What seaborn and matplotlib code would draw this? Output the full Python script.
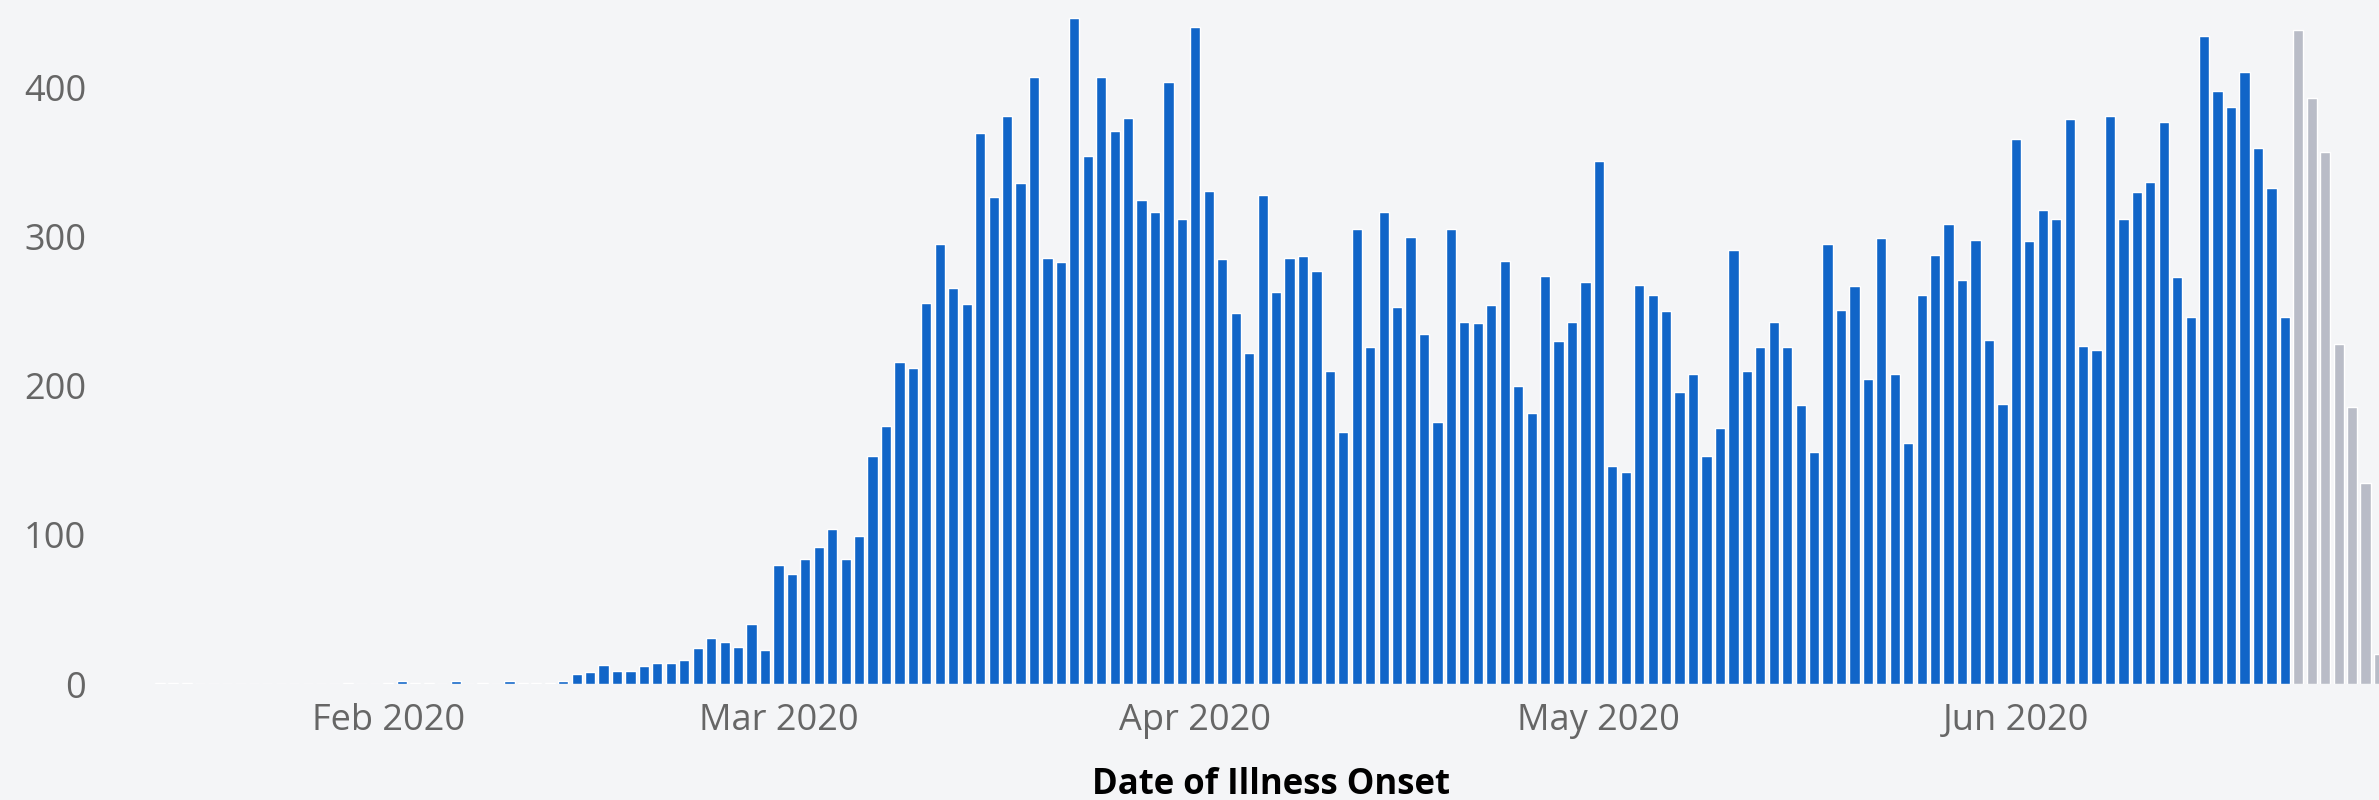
import matplotlib
matplotlib.use("Agg")
import matplotlib.pyplot as plt
import matplotlib.dates as mdates
import pandas as pd
import seaborn as sns


# daily case counts by date of illness onset
start_date = "2020-01-15"
case_counts = [
    # Jan 15 - Jan 31
    1, 1, 1, 0, 0, 0, 0, 0, 0, 0, 0, 0, 0, 0, 1, 0, 0,
    # Feb 1 - Feb 29
    1, 2, 1, 1, 0, 2, 0, 1, 0, 2, 1, 1, 1, 2, 7, 8, 13, 9, 9, 12,
    14, 14, 16, 24, 31, 28, 25, 40, 23,
    # Mar 1 - Mar 31
    80, 74, 84, 92, 104, 84, 99, 153, 173, 216, 212, 256, 295, 266, 255, 370,
    327, 381, 336, 407, 286, 283, 447, 354, 407, 371, 380, 325, 317, 404, 312,
    # Apr 1 - Apr 30
    441, 331, 285, 249, 222, 328, 263, 286, 287, 277, 210, 169, 305, 226, 317,
    253, 300, 235, 176, 305, 243, 242, 254, 284, 200, 182, 274, 230, 243, 270,
    # May 1 - May 31
    351, 146, 142, 268, 261, 250, 196, 208, 153, 172, 291, 210, 226, 243, 226,
    187, 156, 295, 251, 267, 205, 299, 208, 162, 261, 288, 309, 271, 298, 231, 188,
    # Jun 1 - Jun 28
    366, 297, 318, 312, 379, 227, 224, 381, 312, 330, 337, 377, 273, 246, 435,
    398, 387, 411, 360, 333, 246,
    439, 393, 357, 228, 186, 135, 20,
]
# last week is still incomplete (drawn in gray)
n_pending = 7

y_ticks = [0, 100, 200, 300, 400]
x_label = "Date of Illness Onset"

blue = "#1165c8"
gray = "#b9bcc7"
bg = "#f4f5f7"

dates = pd.date_range(start_date, periods=len(case_counts), freq="D")
status = ["Confirmed"] * (len(case_counts) - n_pending) + ["Pending"] * n_pending
df = pd.DataFrame({
    "day": mdates.date2num(dates),
    "cases": case_counts,
    "status": status,
})

sns.set_theme(style="white")
plt.rcParams["font.family"] = ["Open Sans", "DejaVu Sans"]

fig = plt.figure(figsize=(23.79, 8), dpi=100)
fig.patch.set_facecolor(bg)
ax = fig.add_axes([100 / 2379, 116 / 800, 2279 / 2379, 684 / 800])
ax.set_facecolor(bg)

sns.barplot(data=df, x="day", y="cases", hue="status",
            palette={"Confirmed": blue, "Pending": gray},
            native_scale=True, dodge=False, width=0.76,
            errorbar=None, legend=False, saturation=1, ax=ax)

# Feb 29 sits at 765 px; one day is about 13.45 px wide
ref = mdates.date2num(pd.Timestamp("2020-02-29"))
ax.set_xlim(ref - 49.44, ref + 120.0)
ax.set_ylim(0, 459)

ax.xaxis.set_major_locator(mdates.MonthLocator())
ax.xaxis.set_major_formatter(mdates.DateFormatter("%b %Y"))
ax.set_yticks(y_ticks)
ax.tick_params(axis="x", length=0, pad=14, labelsize=26, labelcolor="#666666")
ax.tick_params(axis="y", length=0, pad=10, labelsize=26, labelcolor="#666666")

ax.set_ylabel("")
ax.set_xlabel(x_label, fontsize=25, fontweight="bold", color="black")
ax.xaxis.set_label_coords(0.514, -0.122)

sns.despine(ax=ax, left=True, bottom=True)
ax.grid(False)

fig.savefig("out.png", dpi=100, facecolor=bg)
